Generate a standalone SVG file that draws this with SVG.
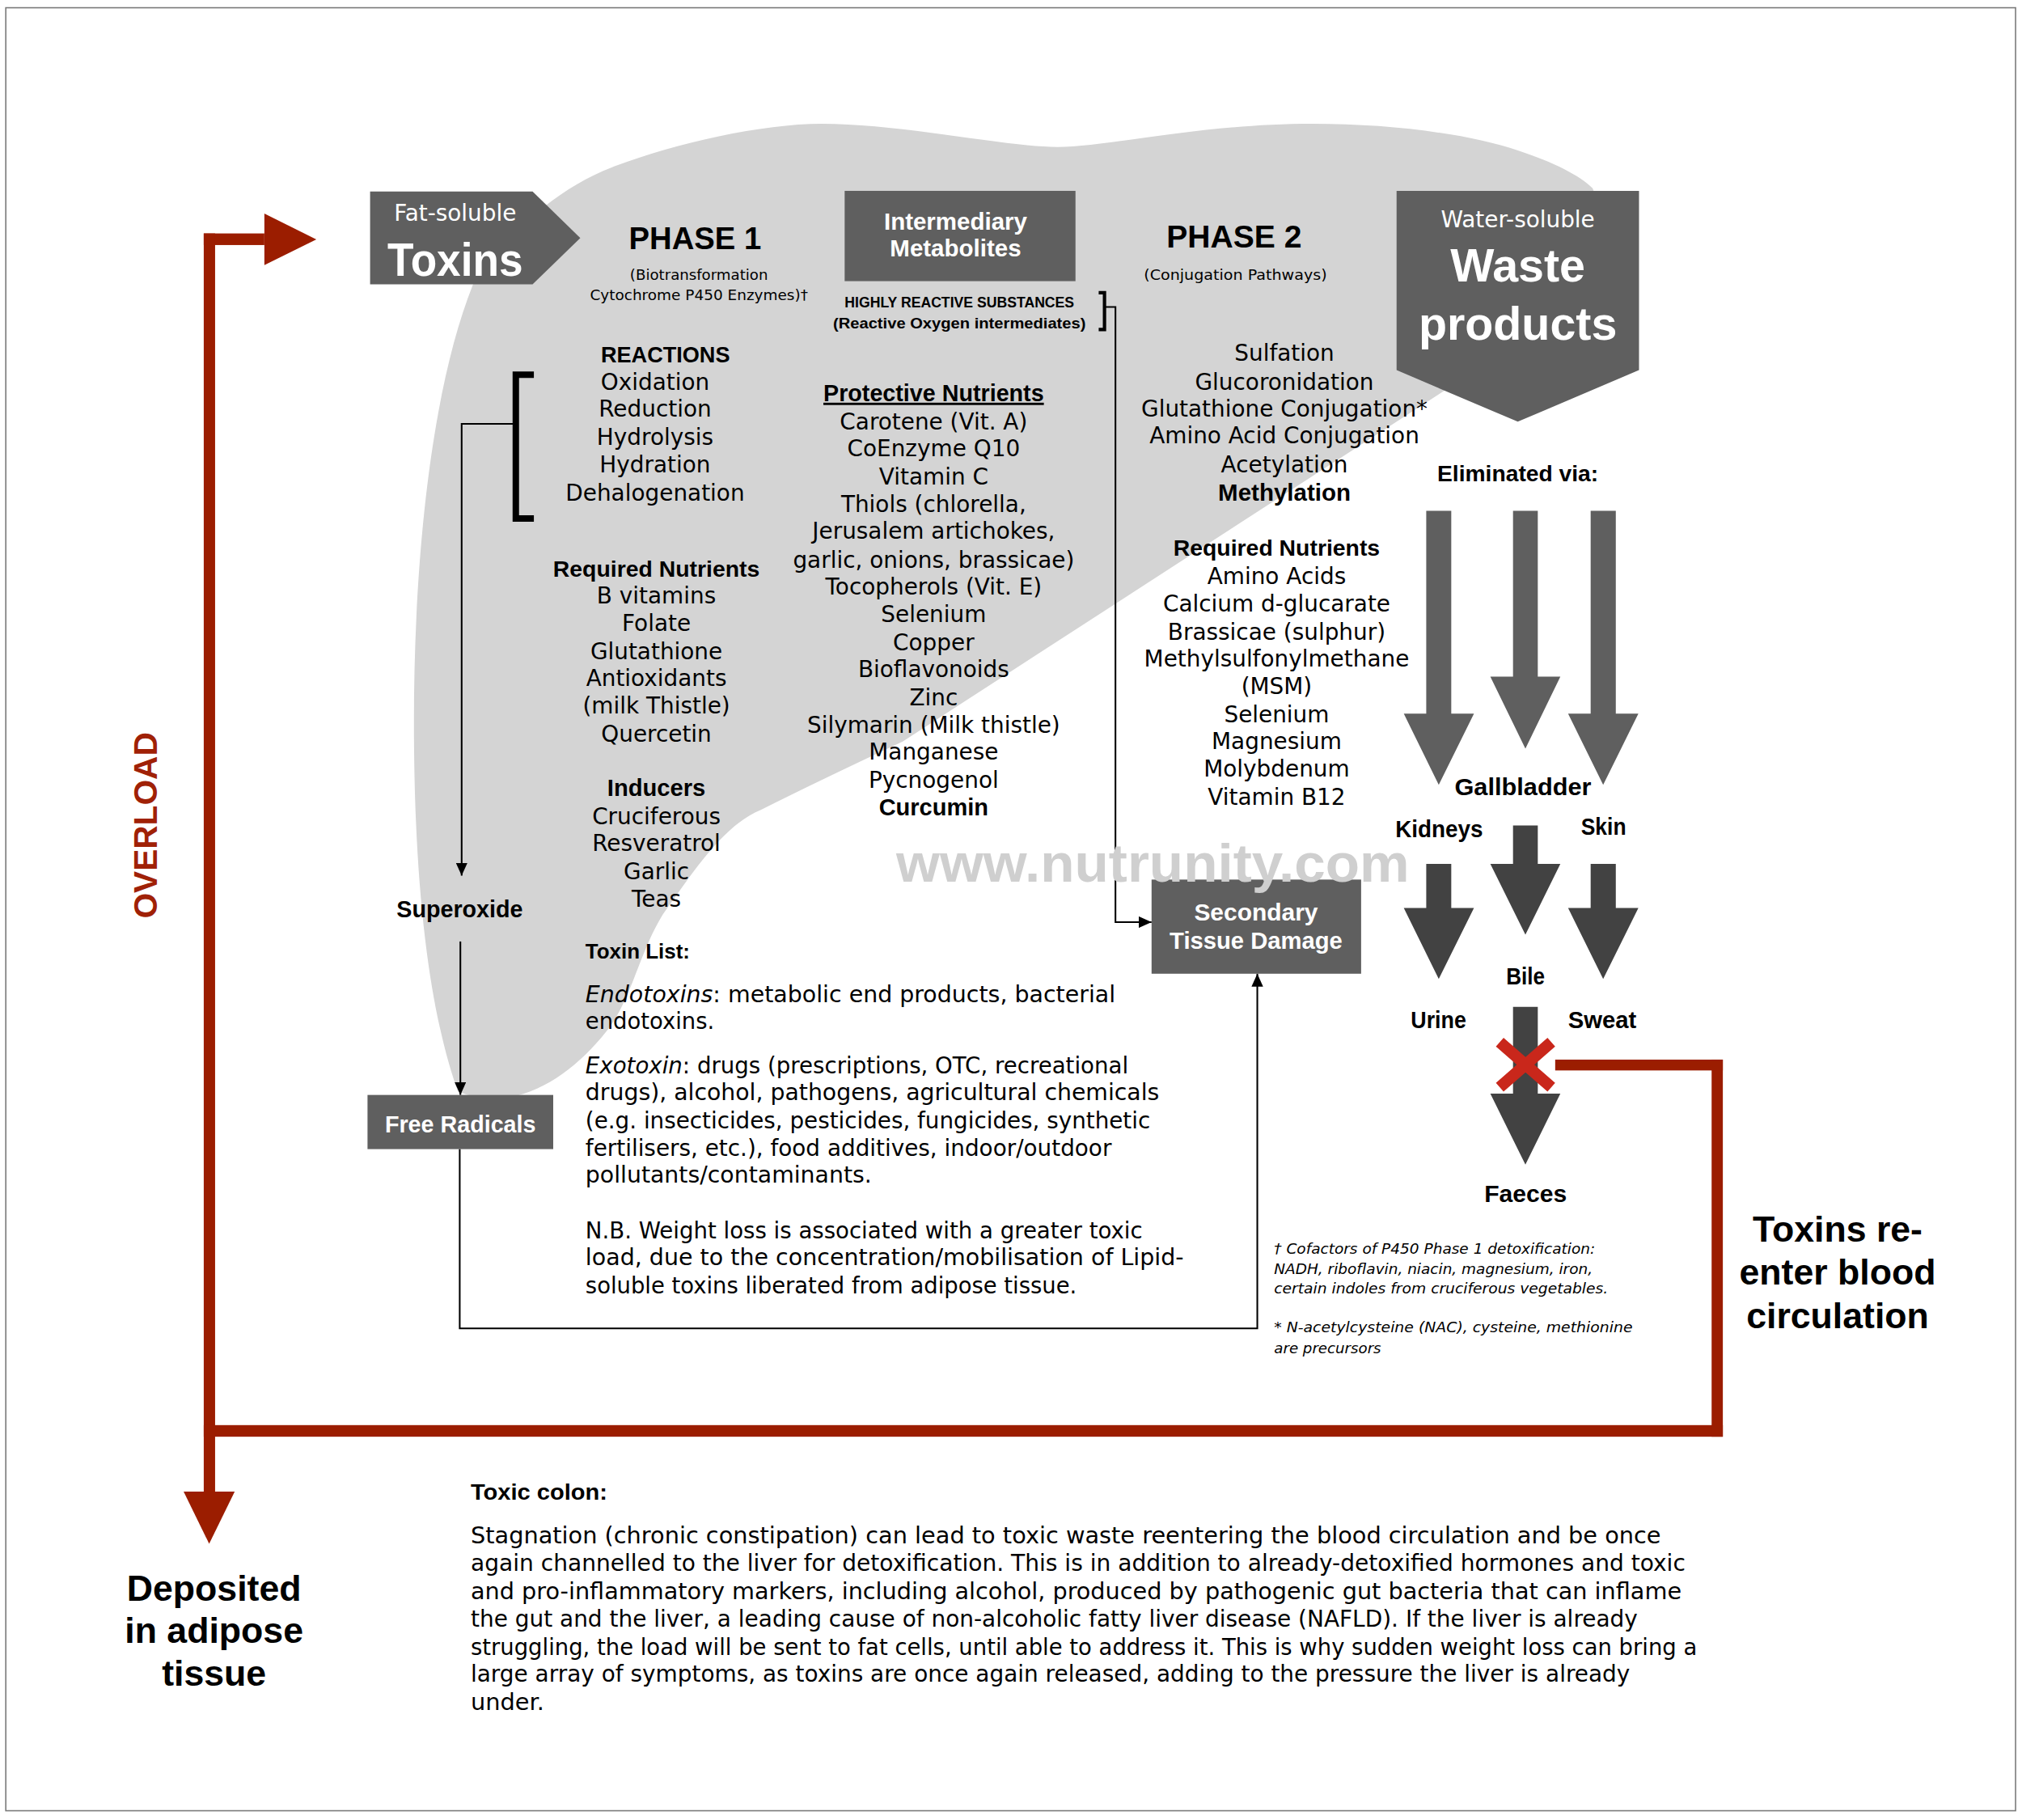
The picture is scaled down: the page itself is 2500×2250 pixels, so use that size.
<svg xmlns="http://www.w3.org/2000/svg" width="2500" height="2250" viewBox="0 0 2500 2250">
<defs>
<style>
.t{font-family:"DejaVu Sans","Liberation Sans",sans-serif;font-size:17.5px;fill:#000}
.b{font-family:"Liberation Sans",Arial,sans-serif;font-weight:bold;fill:#000}
.m{text-anchor:middle}
.wt{fill:#fff}
.box{fill:#5f5f5f}
.ln{fill:none;stroke:#000;stroke-width:1.3}
.red{fill:#9b1d00}
.g1{fill:#5f5f5f}
.g2{fill:#424242}
.fn{font-family:"DejaVu Sans","Liberation Sans",sans-serif;font-size:11px;font-style:italic;fill:#000}
.wm{fill:#cfcfcf}
.rt{fill:#a02106}
</style>
<marker id="ah" markerWidth="10" markerHeight="9" refX="10" refY="4.5" orient="auto" markerUnits="userSpaceOnUse"><path d="M0,0 L10,4.5 L0,9 Z" fill="#000"/></marker>
</defs>
<rect width="2500" height="2250" fill="#fff"/>
<g transform="scale(1.5944)">
<rect x="4.5" y="6" width="1558.5" height="1398" fill="none" stroke="#7a7a7a" stroke-width="1"/>

<g id="liver">
<path fill="#d4d4d4" d="M355,846 C335,790 321,700 321,560 C321,430 335,300 367,220 C395,178 435,145 474,130 C520,112 590,96 637,96 C700,96 780,114 820,114 C860,114 930,96 1018,96 C1080,96 1140,104 1178,117 C1205,126 1225,136 1235,146 L1245,170 L1120,303 L700,575 Q640,603 590,628 C560,640 535,680 514,709 C495,740 490,775 470,800 C450,825 425,845 395,851 C380,853 365,851 355,846 Z"/>
</g>

<g id="connectors">
<path class="ln" d="M400,328.6 H358 V679" marker-end="url(#ah)"/>
<path class="ln" d="M357,730 V849" marker-end="url(#ah)"/>
<path class="ln" d="M356.5,891 V1030 H975 V755" marker-end="url(#ah)"/>
<path class="ln" d="M857,238 H865 V715 H893" marker-end="url(#ah)"/>
<path d="M414,290.5 H400 V402 H414" fill="none" stroke="#000" stroke-width="5"/>
<path d="M852,227 H856.5 V255.5 H852" fill="none" stroke="#000" stroke-width="2.6"/>
</g>

<g id="red-loop">
<rect class="red" x="158" y="181" width="47" height="9"/>
<polygon class="red" points="205,165.6 245.3,185.6 205,205.5"/>
<rect class="red" x="158" y="181" width="8.8" height="976"/>
<polygon class="red" points="142.4,1156.6 182,1156.6 162.2,1197"/>
<rect class="red" x="158" y="1105" width="1178" height="9"/>
<rect class="red" x="1327.3" y="821.6" width="8.7" height="292.4"/>
<rect class="red" x="1206" y="821.6" width="130" height="8.4"/>
</g>

<g id="elimination-arrows">
<polygon class="g1" points="1106,396 1125.4,396 1125.4,553.4 1143,553.4 1115.7,608.6 1088.6,553.4 1106,553.4"/>
<polygon class="g1" points="1173.3,396 1192.5,396 1192.5,524.6 1210,524.6 1182.9,580.5 1155.7,524.6 1173.3,524.6"/>
<polygon class="g1" points="1233.5,396 1253,396 1253,553.4 1270.5,553.4 1243.2,608.6 1216,553.4 1233.5,553.4"/>
<polygon class="g2" points="1173.3,640 1192.5,640 1192.5,669.8 1210,669.8 1182.9,724.8 1155.7,669.8 1173.3,669.8"/>
<polygon class="g2" points="1106,669.8 1125.4,669.8 1125.4,704 1143,704 1115.7,759 1088.6,704 1106,704"/>
<polygon class="g2" points="1233.5,669.8 1253,669.8 1253,704 1270.5,704 1243.2,759 1216,704 1233.5,704"/>
<polygon class="g2" points="1173.3,780.7 1192.5,780.7 1192.5,848 1210,848 1182.9,903 1155.7,848 1173.3,848"/>
</g>

<g id="block-x">
<path d="M1163,808 L1203,843 M1163,843 L1203,808" stroke="#c9271b" stroke-width="9" fill="none"/>
</g>

<g id="node-toxins">
<polygon class="box" points="287,148.5 413,148.5 450,184.5 413,220.5 287,220.5"/>
<text class="t m wt" x="353" y="171.5">Fat-soluble</text>
<text class="b m wt" x="353" y="214" font-size="36" textLength="105" lengthAdjust="spacingAndGlyphs">Toxins</text>
</g>

<g id="node-phase1">
<text class="b m" x="539" y="193" font-size="24">PHASE 1</text>
<text class="t m" x="542" y="217" style="font-size:11.4px">(Biotransformation</text>
<text class="t m" x="542" y="233" style="font-size:11.4px" textLength="169" lengthAdjust="spacingAndGlyphs">Cytochrome P450 Enzymes)†</text>
</g>

<g id="node-intermediary">
<rect class="box" x="655" y="148" width="179" height="70"/>
<text class="b m wt" x="741" y="178" font-size="18.5">Intermediary</text>
<text class="b m wt" x="741" y="199" font-size="18.5">Metabolites</text>
<text class="b m" x="744" y="238.5" font-size="11.5" textLength="178" lengthAdjust="spacingAndGlyphs">HIGHLY REACTIVE SUBSTANCES</text>
<text class="b m" x="744" y="254.5" font-size="11.5" textLength="196" lengthAdjust="spacingAndGlyphs">(Reactive Oxygen intermediates)</text>
</g>

<g id="node-phase2">
<text class="b m" x="957" y="192" font-size="24.5">PHASE 2</text>
<text class="t m" x="958" y="217" style="font-size:11.4px" textLength="142" lengthAdjust="spacingAndGlyphs">(Conjugation Pathways)</text>
</g>

<g id="node-waste">
<polygon class="box" points="1083,148 1271,148 1271,287 1177,327 1083,287"/>
<text class="t m wt" x="1177" y="176.5">Water-soluble</text>
<text class="b m wt" x="1177" y="218.5" font-size="36">Waste</text>
<text class="b m wt" x="1177" y="263.5" font-size="36">products</text>
</g>

<g id="reactions">
<text class="b m" x="516" y="281" font-size="17">REACTIONS</text>
<text class="t m" x="508" y="302">Oxidation</text>
<text class="t m" x="508" y="323">Reduction</text>
<text class="t m" x="508" y="345">Hydrolysis</text>
<text class="t m" x="508" y="366">Hydration</text>
<text class="t m" x="508" y="388">Dehalogenation</text>
</g>

<g id="phase1-nutrients">
<text class="b m" x="509" y="447" font-size="17.8">Required Nutrients</text>
<text class="t m" x="509" y="468">B vitamins</text>
<text class="t m" x="509" y="489">Folate</text>
<text class="t m" x="509" y="511">Glutathione</text>
<text class="t m" x="509" y="532">Antioxidants</text>
<text class="t m" x="509" y="553">(milk Thistle)</text>
<text class="t m" x="509" y="575">Quercetin</text>
<text class="b m" x="509" y="617" font-size="18.3">Inducers</text>
<text class="t m" x="509" y="639">Cruciferous</text>
<text class="t m" x="509" y="660">Resveratrol</text>
<text class="t m" x="509" y="682">Garlic</text>
<text class="t m" x="509" y="703">Teas</text>
</g>

<g id="protective-nutrients">
<text class="b m" x="724" y="311" font-size="18" text-decoration="underline">Protective Nutrients</text>
<text class="t m" x="724" y="333">Carotene (Vit. A)</text>
<text class="t m" x="724" y="354">CoEnzyme Q10</text>
<text class="t m" x="724" y="376">Vitamin C</text>
<text class="t m" x="724" y="397">Thiols (chlorella,</text>
<text class="t m" x="724" y="418">Jerusalem artichokes,</text>
<text class="t m" x="724" y="440">garlic, onions, brassicae)</text>
<text class="t m" x="724" y="461">Tocopherols (Vit. E)</text>
<text class="t m" x="724" y="482">Selenium</text>
<text class="t m" x="724" y="504">Copper</text>
<text class="t m" x="724" y="525">Bioflavonoids</text>
<text class="t m" x="724" y="547">Zinc</text>
<text class="t m" x="724" y="568">Silymarin (Milk thistle)</text>
<text class="t m" x="724" y="589">Manganese</text>
<text class="t m" x="724" y="611">Pycnogenol</text>
<text class="b m" x="724" y="632" font-size="18.2">Curcumin</text>
</g>

<g id="phase2-pathways">
<text class="t m" x="996" y="280">Sulfation</text>
<text class="t m" x="996" y="302">Glucoronidation</text>
<text class="t m" x="996" y="323">Glutathione Conjugation*</text>
<text class="t m" x="996" y="344">Amino Acid Conjugation</text>
<text class="t m" x="996" y="366">Acetylation</text>
<text class="b m" x="996" y="388" font-size="18.5">Methylation</text>
</g>

<g id="phase2-nutrients">
<text class="b m" x="990" y="431" font-size="17.8">Required Nutrients</text>
<text class="t m" x="990" y="453">Amino Acids</text>
<text class="t m" x="990" y="474">Calcium d-glucarate</text>
<text class="t m" x="990" y="496">Brassicae (sulphur)</text>
<text class="t m" x="990" y="517">Methylsulfonylmethane</text>
<text class="t m" x="990" y="538">(MSM)</text>
<text class="t m" x="990" y="560">Selenium</text>
<text class="t m" x="990" y="581">Magnesium</text>
<text class="t m" x="990" y="602">Molybdenum</text>
<text class="t m" x="990" y="624">Vitamin B12</text>
</g>

<g id="elimination-labels">
<text class="b m" x="1177" y="373" font-size="17.7">Eliminated via:</text>
<text class="b m" x="1181" y="616.5" font-size="18" textLength="106" lengthAdjust="spacingAndGlyphs">Gallbladder</text>
<text class="b m" x="1116" y="649" font-size="18" textLength="68" lengthAdjust="spacingAndGlyphs">Kidneys</text>
<text class="b m" x="1243.5" y="647" font-size="18" textLength="35" lengthAdjust="spacingAndGlyphs">Skin</text>
<text class="b m" x="1183" y="763" font-size="18" textLength="30" lengthAdjust="spacingAndGlyphs">Bile</text>
<text class="b m" x="1115.5" y="797" font-size="18" textLength="43" lengthAdjust="spacingAndGlyphs">Urine</text>
<text class="b m" x="1242.5" y="797" font-size="18" textLength="53" lengthAdjust="spacingAndGlyphs">Sweat</text>
<text class="b m" x="1183" y="932" font-size="18" textLength="64" lengthAdjust="spacingAndGlyphs">Faeces</text>
</g>

<g id="node-secondary">
<rect class="box" x="893" y="682" width="162.5" height="73"/>
<text class="b m wt" x="974" y="714" font-size="18" textLength="96" lengthAdjust="spacingAndGlyphs">Secondary</text>
<text class="b m wt" x="974" y="736" font-size="18" textLength="134" lengthAdjust="spacingAndGlyphs">Tissue Damage</text>
</g>

<g id="watermark">
<text class="b m wm" x="894" y="683.5" font-size="42" textLength="398" lengthAdjust="spacingAndGlyphs">www.nutrunity.com</text>
</g>

<g id="node-superoxide">
<text class="b m" x="356.5" y="711" font-size="18">Superoxide</text>
</g>

<g id="node-free-radicals">
<rect class="box" x="285" y="849" width="144" height="42"/>
<text class="b m wt" x="357" y="878" font-size="18">Free Radicals</text>
</g>

<g id="toxin-list">
<text class="b" x="454" y="743" font-size="16.5" textLength="81" lengthAdjust="spacingAndGlyphs">Toxin List:</text>
<text class="t" x="454" y="777" textLength="411" lengthAdjust="spacingAndGlyphs"><tspan font-style="italic">Endotoxins</tspan>: metabolic end products, bacterial</text>
<text class="t" x="454" y="798" textLength="100" lengthAdjust="spacingAndGlyphs">endotoxins.</text>
<text class="t" x="454" y="832" textLength="421" lengthAdjust="spacingAndGlyphs"><tspan font-style="italic">Exotoxin</tspan>: drugs (prescriptions, OTC, recreational</text>
<text class="t" x="454" y="853" textLength="445" lengthAdjust="spacingAndGlyphs">drugs), alcohol, pathogens, agricultural chemicals</text>
<text class="t" x="454" y="875" textLength="438" lengthAdjust="spacingAndGlyphs">(e.g. insecticides, pesticides, fungicides, synthetic</text>
<text class="t" x="454" y="896" textLength="408" lengthAdjust="spacingAndGlyphs">fertilisers, etc.), food additives, indoor/outdoor</text>
<text class="t" x="454" y="917" textLength="222" lengthAdjust="spacingAndGlyphs">pollutants/contaminants.</text>
<text class="t" x="454" y="960" textLength="432" lengthAdjust="spacingAndGlyphs">N.B. Weight loss is associated with a greater toxic</text>
<text class="t" x="454" y="981" textLength="464" lengthAdjust="spacingAndGlyphs">load, due to the concentration/mobilisation of Lipid-</text>
<text class="t" x="454" y="1003" textLength="381" lengthAdjust="spacingAndGlyphs">soluble toxins liberated from adipose tissue.</text>
</g>

<g id="footnotes">
<text class="fn" x="988" y="972" textLength="249" lengthAdjust="spacingAndGlyphs">† Cofactors of P450 Phase 1 detoxification:</text>
<text class="fn" x="988" y="988" textLength="247" lengthAdjust="spacingAndGlyphs">NADH, riboflavin, niacin, magnesium, iron,</text>
<text class="fn" x="988" y="1003" textLength="259" lengthAdjust="spacingAndGlyphs">certain indoles from cruciferous vegetables.</text>
<text class="fn" x="988" y="1033" textLength="278" lengthAdjust="spacingAndGlyphs">* N-acetylcysteine (NAC), cysteine, methionine</text>
<text class="fn" x="988" y="1049" textLength="83" lengthAdjust="spacingAndGlyphs">are precursors</text>
</g>

<g id="label-overload">
<text class="b m rt" transform="translate(121.5,640) rotate(-90)" font-size="25.5">OVERLOAD</text>
</g>

<g id="label-reenter">
<text class="b m" x="1425" y="963" font-size="28">Toxins re-</text>
<text class="b m" x="1425" y="996" font-size="28">enter blood</text>
<text class="b m" x="1425" y="1030" font-size="28">circulation</text>
</g>

<g id="label-deposited">
<text class="b m" x="166" y="1241" font-size="28">Deposited</text>
<text class="b m" x="166" y="1274" font-size="28">in adipose</text>
<text class="b m" x="166" y="1307" font-size="28">tissue</text>
</g>

<g id="toxic-colon">
<text class="b" x="365" y="1163" font-size="17" textLength="106" lengthAdjust="spacingAndGlyphs">Toxic colon:</text>
<text class="t" x="365" y="1197" textLength="923" lengthAdjust="spacingAndGlyphs">Stagnation (chronic constipation) can lead to toxic waste reentering the blood circulation and be once</text>
<text class="t" x="365" y="1218" textLength="942" lengthAdjust="spacingAndGlyphs">again channelled to the liver for detoxification. This is in addition to already-detoxified hormones and toxic</text>
<text class="t" x="365" y="1240" textLength="939" lengthAdjust="spacingAndGlyphs">and pro-inflammatory markers, including alcohol, produced by pathogenic gut bacteria that can inflame</text>
<text class="t" x="365" y="1261" textLength="905" lengthAdjust="spacingAndGlyphs">the gut and the liver, a leading cause of non-alcoholic fatty liver disease (NAFLD). If the liver is already</text>
<text class="t" x="365" y="1283" textLength="951" lengthAdjust="spacingAndGlyphs">struggling, the load will be sent to fat cells, until able to address it. This is why sudden weight loss can bring a</text>
<text class="t" x="365" y="1304" textLength="899" lengthAdjust="spacingAndGlyphs">large array of symptoms, as toxins are once again released, adding to the pressure the liver is already</text>
<text class="t" x="365" y="1326" textLength="57" lengthAdjust="spacingAndGlyphs">under.</text>
</g>
</g>
</svg>
